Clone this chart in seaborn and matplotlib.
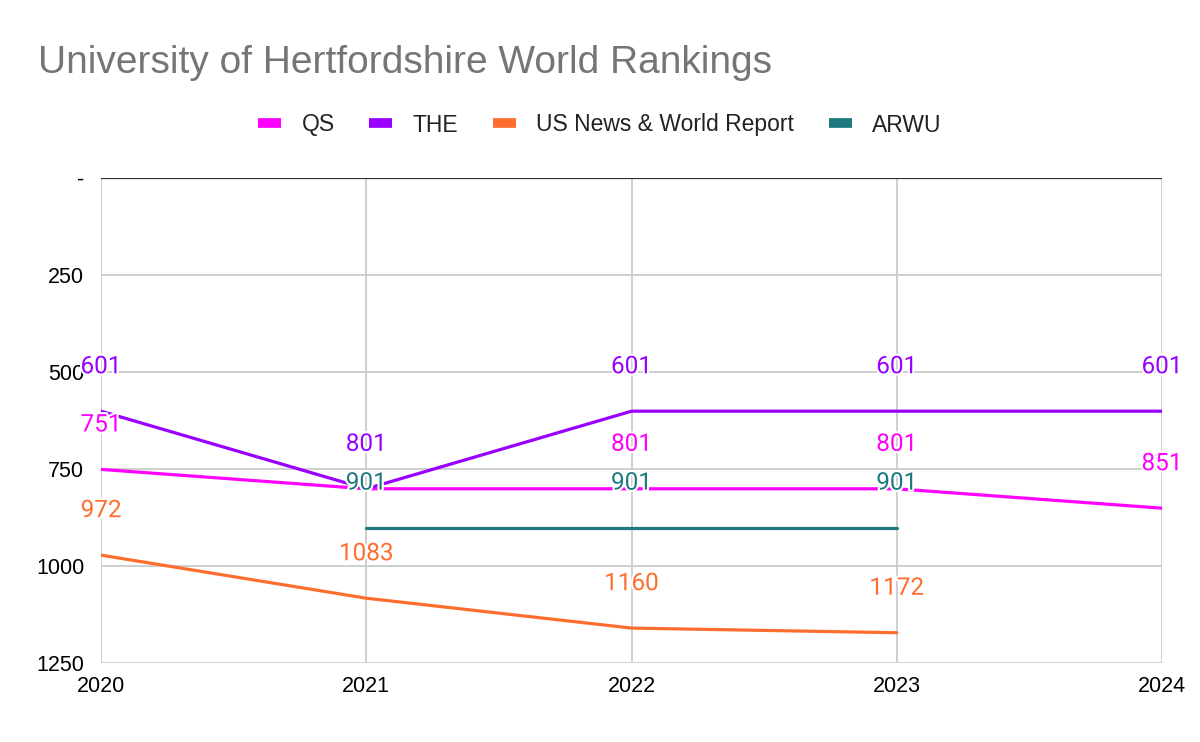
import numpy as np
import pandas as pd
import seaborn as sns
import matplotlib.pyplot as plt
import matplotlib.patheffects as pe
from matplotlib.lines import Line2D

years = [2020, 2021, 2022, 2023, 2024]
qs = [751, 801, 801, 801, 851]
the = [601, 801, 601, 601, 601]
usnews = [972, 1083, 1160, 1172, np.nan]
arwu = [np.nan, 901, 901, 901, np.nan]

series_names = ["QS", "THE", "US News & World Report", "ARWU"]
colors = ["#FF00FF", "#9900FF", "#FF6D2E", "#1E7981"]
y_ticks = [0, 250, 500, 750, 1000, 1250]
y_ticklabels = ["-", "250", "500", "750", "1000", "1250"]

df = pd.DataFrame({"year": years, "QS": qs, "THE": the,
                   "US News & World Report": usnews, "ARWU": arwu})
long = df.melt(id_vars="year", var_name="ranking", value_name="rank").dropna()

sns.set_style("white")
plt.rcParams["font.family"] = ["Liberation Sans", "DejaVu Sans"]

fig, ax = plt.subplots(figsize=(12, 7.42), dpi=100)
fig.subplots_adjust(left=101/1200, right=1162/1200, top=1-178/742, bottom=1-663/742)

# grid first so lines sit on top
for yt in y_ticks[1:]:
    ax.axhline(yt, color="#CCCCCC", lw=1.3, zorder=0)
for xt in years:
    ax.axvline(xt, color="#CCCCCC", lw=1.3, zorder=0)
ax.axhline(0, color="#333333", lw=1.6, zorder=1)

sns.lineplot(data=long, x="year", y="rank", hue="ranking", hue_order=series_names,
             palette=colors, linewidth=2.3, legend=False, ax=ax, zorder=3)

# data labels above each point
for name, c in zip(series_names, colors):
    for x, v in zip(years, df[name]):
        if np.isnan(v):
            continue
        ax.annotate(f"{int(v)}", (x, v), xytext=(0, 32), textcoords="offset points",
                    ha="center", va="center", fontsize=17.5, color=c,
                    family="Roboto", zorder=5,
                    path_effects=[pe.withStroke(linewidth=3, foreground="white")])

ax.set_xlim(2020, 2024)
ax.set_ylim(1250, 0)
ax.set_xticks(years)
ax.set_xticklabels([str(y) for y in years], fontsize=15.5, color="black")
ax.set_yticks(y_ticks)
ax.set_yticklabels(y_ticklabels, fontsize=15.5, color="black")
ax.tick_params(length=0, pad=12)
ax.tick_params(axis="x", pad=9)
ax.set_xlabel("")
ax.set_ylabel("")
for s in ax.spines.values():
    s.set_visible(False)

fig.text(38/1200, 1-63/742, "University of Hertfordshire World Rankings",
         fontsize=28, color="#757575", va="center", ha="left")

handles = [Line2D([0], [0], color=c, lw=7, solid_capstyle="butt") for c in colors]
fig.legend(handles, series_names, loc="center", bbox_to_anchor=(0.5, 1-125/742),
           ncol=4, frameon=False, fontsize=16.5, handlelength=1.0, handletextpad=0.9,
           columnspacing=1.5, labelcolor="#222222")

fig.savefig("out.png", dpi=100)
